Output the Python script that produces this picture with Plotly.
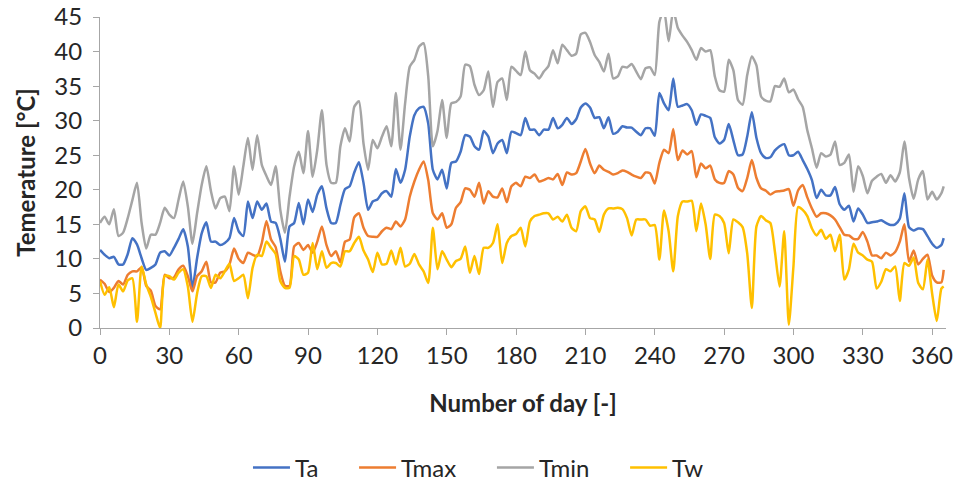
import plotly.graph_objects as go

days = list(range(0, 366, 2)) + [365]

ta = [11.3, 10.6, 10.1, 10.3, 9.2, 9.2, 10.7, 13.0, 12.1, 10.1, 8.4, 8.7, 9.2, 10.9, 11.1, 10.5, 11.6, 12.9, 14.3,
      11.8, 5.8, 10.1, 13.7, 15.3, 12.5, 12.5, 12.0, 12.3, 13.0, 15.9, 14.0, 13.3, 18.3, 15.9, 18.3, 17.1, 18.0,
      15.4, 15.2, 12.9, 9.6, 14.7, 15.2, 18.1, 15.0, 18.6, 16.8, 19.3, 20.5, 17.3, 15.2, 15.2, 17.8, 20.1, 20.5, 22.5,
      24.0, 21.0, 17.1, 18.3, 18.6, 19.5, 19.8, 19.0, 23.0, 21.0, 22.9, 27.7, 30.8, 31.8, 32.0, 29.6, 22.9, 21.5,
      22.9, 20.2, 23.9, 24.1, 25.5, 27.9, 27.7, 26.3, 25.8, 28.5, 27.7, 25.3, 26.7, 27.2, 25.3, 28.4, 28.2, 27.9,
      30.4, 28.7, 28.7, 27.9, 28.7, 28.7, 30.4, 28.9, 29.4, 30.4, 29.5, 30.2, 31.9, 32.5, 31.9, 30.4, 30.5, 28.9, 30.5,
      28.1, 28.4, 29.2, 29.0, 29.0, 28.4, 27.9, 28.9, 28.9, 27.8, 34.0, 32.5, 31.5, 36.1, 32.0, 32.2, 32.4, 31.5,
      29.4, 30.9, 30.7, 30.4, 27.6, 26.7, 27.2, 29.5, 27.2, 25.0, 25.1, 27.7, 31.2, 27.5, 25.3, 24.6, 24.7, 25.7,
      26.3, 26.6, 25.0, 25.0, 25.5, 24.3, 23.0, 21.4, 18.8, 20.0, 19.2, 19.2, 20.4, 17.9, 17.1, 17.7, 15.4, 17.3, 16.4,
      15.2, 15.3, 15.4, 15.6, 15.2, 14.9, 15.0, 15.8, 19.5, 14.6, 14.1, 14.4, 14.3, 13.3, 12.2, 11.6, 12.0, 13.0]

tmax = [7.0, 6.4, 5.2, 5.8, 6.8, 6.3, 7.7, 8.2, 8.2, 8.8, 6.1, 5.4, 3.2, 2.7, 7.7, 7.2, 7.3, 8.5, 9.0,
        7.5, 5.3, 7.5, 8.2, 9.6, 6.6, 6.6, 8.0, 8.2, 9.2, 11.5, 10.0, 9.4, 10.9, 10.6, 10.4, 12.3, 15.5,
        12.8, 11.7, 8.2, 6.1, 6.1, 11.8, 12.3, 11.3, 12.0, 10.9, 12.5, 14.7, 12.0, 10.4, 11.1, 9.5, 12.5, 12.8, 16.0,
        16.6, 14.5, 13.3, 13.2, 13.2, 14.0, 14.5, 14.3, 15.4, 14.7, 15.7, 19.0, 21.2, 22.9, 24.1, 21.4, 16.6, 15.7,
        16.6, 14.5, 15.0, 17.4, 18.2, 20.2, 20.0, 19.0, 21.0, 18.0, 19.8, 19.0, 18.9, 20.2, 18.2, 20.5, 21.0, 20.5,
        21.9, 21.7, 22.2, 21.2, 21.4, 21.7, 21.5, 22.3, 20.7, 22.5, 22.2, 22.4, 24.1, 25.9, 23.8, 22.4, 23.5, 22.9, 22.6,
        22.2, 22.4, 22.8, 22.6, 22.2, 21.9, 21.7, 22.5, 22.4, 20.9, 23.9, 25.8, 25.3, 28.8, 24.3, 25.7, 25.1, 25.6,
        21.8, 23.8, 23.1, 23.5, 21.5, 21.0, 21.0, 22.7, 22.2, 20.3, 19.8, 21.7, 24.3, 21.7, 20.2, 19.9, 19.3, 19.7,
        19.8, 19.9, 20.1, 17.7, 19.9, 20.7, 18.9, 17.3, 16.1, 16.6, 16.6, 16.3, 15.7, 14.6, 13.5, 13.4, 12.9, 12.9, 13.9,
        12.5, 10.5, 10.5, 10.1, 10.9, 10.5, 11.0, 12.5, 15.0, 9.6, 11.2, 9.2, 10.0, 10.6, 7.6, 6.6, 6.6, 8.4]

tmin = [15.2, 16.1, 15.0, 17.2, 13.3, 13.8, 15.9, 18.5, 21.0, 15.2, 11.5, 13.5, 13.5, 15.2, 17.4, 16.4, 15.9, 18.6, 21.2,
        17.6, 12.2, 16.6, 20.7, 23.4, 19.8, 17.3, 18.8, 19.0, 16.9, 23.4, 19.3, 23.4, 27.5, 22.9, 27.9, 23.6, 22.0,
        20.7, 23.4, 17.1, 13.8, 19.0, 23.4, 25.5, 22.4, 28.5, 21.9, 25.8, 31.5, 23.6, 21.0, 21.0, 26.3, 28.9, 27.0, 32.0,
        32.8, 26.7, 22.9, 27.2, 26.0, 27.7, 29.2, 26.3, 34.0, 25.8, 32.5, 37.8, 38.8, 40.7, 41.2, 36.4, 26.3, 28.5,
        33.0, 27.5, 32.5, 32.7, 33.5, 38.1, 37.9, 35.2, 33.7, 34.4, 37.1, 32.0, 35.6, 36.1, 33.0, 37.8, 37.2, 36.6,
        40.0, 37.3, 36.8, 36.1, 37.1, 37.9, 40.2, 38.3, 41.0, 40.2, 39.4, 39.7, 42.5, 42.7, 41.4, 39.5, 38.5, 37.1, 39.7,
        36.1, 36.4, 37.8, 37.7, 38.2, 37.1, 36.0, 37.6, 37.7, 36.6, 44.3, 46.0, 41.5, 46.0, 43.4, 42.3, 41.4, 40.2,
        38.8, 40.5, 40.0, 40.2, 36.4, 34.4, 34.2, 38.8, 37.3, 33.0, 32.3, 36.6, 39.3, 38.0, 33.5, 32.9, 32.8, 35.0,
        34.9, 36.1, 34.1, 34.5, 33.1, 32.0, 28.6, 26.0, 23.2, 25.3, 24.8, 25.1, 27.0, 23.6, 23.9, 25.1, 19.7, 23.4, 22.0,
        19.5, 21.3, 21.9, 22.3, 21.0, 22.1, 21.2, 22.5, 27.0, 21.7, 18.7, 21.5, 22.7, 18.6, 19.7, 18.6, 19.5, 20.5]

tw = [6.8, 4.8, 5.9, 3.0, 6.3, 5.3, 6.9, 7.2, 0.9, 8.9, 6.3, 4.5, 2.2, 0.0, 7.5, 7.5, 7.0, 8.0, 8.5,
      6.0, 0.9, 5.0, 7.5, 7.5, 5.8, 7.7, 7.2, 8.2, 9.3, 6.8, 7.2, 7.7, 4.3, 8.7, 10.6, 10.4, 12.5,
      11.6, 10.7, 6.8, 5.8, 5.8, 10.4, 9.9, 7.7, 8.0, 12.3, 8.5, 11.1, 8.7, 9.4, 9.4, 8.9, 11.1, 11.1, 12.3,
      13.2, 11.2, 9.9, 8.1, 10.9, 9.2, 9.3, 11.2, 9.2, 11.6, 8.9, 9.3, 10.7, 9.2, 8.2, 6.5, 14.5, 8.5,
      11.1, 9.9, 8.8, 9.7, 10.0, 11.8, 8.0, 10.4, 7.8, 11.6, 11.6, 12.3, 15.0, 9.4, 12.3, 13.3, 13.6, 14.5,
      11.8, 15.4, 16.2, 16.4, 16.6, 16.6, 15.7, 16.1, 15.4, 16.4, 14.5, 14.0, 16.9, 17.6, 15.9, 15.7, 13.9, 16.4, 17.3,
      17.3, 17.4, 17.2, 15.9, 13.4, 15.7, 15.7, 15.7, 14.8, 14.9, 9.9, 17.0, 14.0, 8.2, 16.2, 18.3, 18.3, 18.4,
      14.0, 18.0, 15.0, 10.0, 16.4, 16.2, 15.2, 10.8, 15.7, 15.3, 14.6, 10.8, 2.9, 14.7, 16.2, 15.6, 15.2, 11.0,
      6.0, 14.0, 0.5, 8.9, 17.5, 17.1, 16.2, 14.4, 13.4, 14.2, 12.9, 13.5, 11.1, 13.5, 7.0, 8.5, 12.2, 10.9, 10.5,
      9.9, 9.6, 5.7, 6.7, 8.5, 8.2, 8.9, 3.9, 9.4, 9.0, 10.2, 6.5, 5.6, 9.9, 5.0, 1.0, 5.7, 6.0]

names = ["Ta", "Tmax", "Tmin", "Tw"]
values = [ta, tmax, tmin, tw]
colors = ["#4472C4", "#ED7D31", "#A5A5A5", "#FFC000"]

FONT = "Lato, 'Open Sans', sans-serif"
FS = 24
TXT = "#262626"
AX = "#A6A6A6"
PAD = "\u00a0" * 5

fig = go.Figure()
for i, (name, vals, col) in enumerate(zip(names, values, colors)):
    label = name + (PAD if i < len(names) - 1 else "")
    fig.add_trace(go.Scatter(x=days, y=vals, name=label, mode="lines",
                             line=dict(color=col, width=2.5, shape="spline", smoothing=0.6)))

fig.update_layout(
    width=963, height=493,
    margin=dict(l=100, r=17, t=17, b=164.5, pad=0, autoexpand=False),
    paper_bgcolor="white", plot_bgcolor="white",
    font=dict(family=FONT, size=FS, color=TXT),
    showlegend=True,
    legend=dict(orientation="h", xref="container", yref="container",
                x=0.2575, xanchor="left", y=0.0507, yanchor="middle",
                itemwidth=37, font=dict(size=FS, color=TXT), bgcolor="rgba(0,0,0,0)"),
)
fig.update_xaxes(range=[0, 366], tick0=0, dtick=30, ticks="outside", ticklen=6,
                 tickcolor=AX, showline=True, linecolor=AX, linewidth=1,
                 showgrid=False, zeroline=False, automargin=False,
                 ticklabelstandoff=0, tickfont=dict(size=FS, color=TXT),
                 title=dict(text="<b>Number of day [-]</b>", standoff=27,
                            font=dict(size=FS, color=TXT)))
fig.update_yaxes(range=[0, 45], tick0=0, dtick=5, ticks="outside", ticklen=6,
                 tickcolor=AX, showline=True, linecolor=AX, linewidth=1,
                 showgrid=False, zeroline=False, automargin=False,
                 ticklabelstandoff=6, tickfont=dict(size=FS, color=TXT),
                 title=dict(text="<b>Temerature [°C]</b>", standoff=11,
                            font=dict(size=FS, color=TXT)))

fig.write_html("out.html", config={"displayModeBar": False})
